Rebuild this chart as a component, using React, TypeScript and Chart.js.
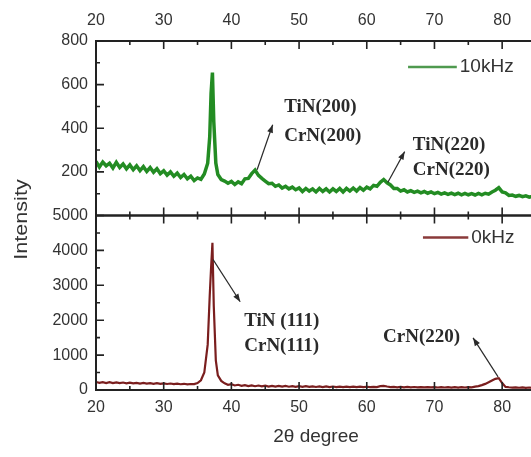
import React, { useEffect, useRef } from "react";
import { Chart, registerables } from "chart.js";

Chart.register(...registerables);

// 2θ positions (degree)
const twoTheta = [
  20, 20.5, 21, 21.5, 22, 22.5, 23, 23.5, 24, 24.5,
  25, 25.5, 26, 26.5, 27, 27.5, 28, 28.5, 29, 29.5,
  30, 30.5, 31, 31.5, 32, 32.5, 33, 33.5, 34, 34.5,
  35, 35.5, 36, 36.5, 36.8, 37.0, 37.2, 37.4, 37.7, 38, 38.5, 39, 39.5,
  40, 40.5, 41, 41.5, 42, 42.5, 43, 43.5, 44, 44.5,
  45, 45.5, 46, 46.5, 47, 47.5, 48, 48.5, 49, 49.5,
  50, 50.5, 51, 51.5, 52, 52.5, 53, 53.5, 54, 54.5,
  55, 55.5, 56, 56.5, 57, 57.5, 58, 58.5, 59, 59.5,
  60, 60.5, 61, 61.5, 62, 62.5, 63, 63.5, 64, 64.5,
  65, 65.5, 66, 66.5, 67, 67.5, 68, 68.5, 69, 69.5,
  70, 70.5, 71, 71.5, 72, 72.5, 73, 73.5, 74, 74.5,
  75, 75.5, 76, 76.5, 77, 77.5, 78, 78.5, 79, 79.5,
  80, 80.5, 81, 81.5, 82, 82.5, 83, 83.5, 84, 84.5,
  85,
];

// 10kHz intensity (top panel)
const intensity10kHz = [
  248, 222, 245, 228, 240, 218, 244, 220, 236, 214,
  232, 210, 228, 206, 224, 202, 220, 198, 214, 192,
  205, 185, 200, 180, 194, 174, 188, 168, 180, 160,
  172, 166, 190, 240, 360, 560, 655, 430, 240, 188, 165, 158, 148,
  156, 142, 154, 146, 168, 170, 192, 208, 184, 170,
  158, 146, 148, 134, 140, 126, 134, 122, 130, 118,
  126, 110, 124, 112, 122, 108, 124, 110, 122, 108,
  122, 110, 124, 108, 124, 112, 126, 112, 128, 116,
  130, 122, 138, 134, 152, 165, 150, 140, 124, 124,
  112, 118, 108, 114, 106, 112, 104, 110, 102, 108,
  100, 106, 98, 104, 97, 103, 96, 102, 95, 101,
  95, 100, 94, 101, 95, 102, 98, 108, 116, 128,
  108, 104, 92, 94, 88, 92, 86, 90, 84, 88,
  84,
];

// 0kHz intensity (bottom panel)
const intensity0kHz = [
  230, 205, 225, 200, 222, 198, 218, 196, 214, 192,
  210, 188, 206, 186, 202, 182, 198, 178, 194, 175,
  190, 172, 186, 168, 182, 165, 178, 162, 172, 170,
  200, 280, 500, 1300, 2700, 3500, 4220, 2400, 850, 420, 260, 190, 150,
  165, 130, 150, 120, 140, 112, 132, 108, 128, 104,
  124, 100, 120, 98, 118, 96, 115, 94, 112, 92,
  110, 90, 108, 88, 106, 86, 104, 85, 102, 84,
  100, 84, 98, 82, 96, 81, 95, 80, 94, 80,
  93, 80, 92, 82, 110, 120, 100, 85, 90, 78,
  88, 76, 87, 75, 86, 74, 85, 74, 84, 73,
  84, 72, 83, 72, 82, 71, 82, 71, 81, 72,
  82, 76, 95, 110, 140, 175, 220, 270, 320, 340,
  200, 90, 78, 70, 76, 64, 74, 62, 72, 60,
  70,
];

const xTickMarks = [20, 25, 30, 35, 40, 45, 50, 55, 60, 65, 70, 75, 80, 85];
const topPanelTicks = [0, 100, 200, 300, 400, 500, 600, 700, 800];
const bottomPanelTicks = [0, 500, 1000, 1500, 2000, 2500, 3000, 3500, 4000, 4500, 5000];

const seriesLabels = ["10kHz", "0kHz"];
const peakLabels = [
  { panel: "yHigh", x: 47.8, y: 498, text: "TiN(200)" },
  { panel: "yHigh", x: 47.8, y: 366, text: "CrN(200)" },
  { panel: "yHigh", x: 66.8, y: 325, text: "TiN(220)" },
  { panel: "yHigh", x: 66.8, y: 210, text: "CrN(220)" },
  { panel: "yLow", x: 41.9, y: 1983, text: "TiN (111)" },
  { panel: "yLow", x: 41.9, y: 1265, text: "CrN(111)" },
  { panel: "yLow", x: 62.4, y: 1523, text: "CrN(220)" },
];
const peakArrows = [
  { panel: "yHigh", from: [43.8, 210], to: [46.1, 416] },
  { panel: "yHigh", from: [63.1, 151], to: [65.6, 293] },
  { panel: "yLow", from: [37.3, 3736], to: [41.3, 2529] },
  { panel: "yLow", from: [79.4, 374], to: [75.7, 1494] },
];

const GREEN = "#238c23";
const MAROON = "#7a1e1e";
const TEXT = "#333333";
const SANS = "'Liberation Sans', Arial, sans-serif";
const SERIF = "'Liberation Serif', 'Times New Roman', serif";

const legendItems = [
  { panel: "yHigh", x0: 66.1, x1: 73.3, y: 681, label: seriesLabels[0], color: "#4f9a4f" },
  { panel: "yLow", x0: 68.3, x1: 75.0, y: 4369, label: seriesLabels[1], color: "#8a3a3a" },
];

const decorPlugin = {
  id: "decor",
  afterDatasetsDraw(chart: any) {
    const ctx = chart.ctx as CanvasRenderingContext2D;
    const xs = chart.scales.x;
    const yHigh = chart.scales.yHigh;
    const yLow = chart.scales.yLow;
    const panels = [yHigh, yLow];
    ctx.save();

    // frames
    ctx.strokeStyle = "#222";
    ctx.lineWidth = 2;
    for (const p of panels) {
      ctx.strokeRect(xs.left, p.top, xs.right - xs.left, p.bottom - p.top);
    }

    // inward ticks on x edges
    ctx.lineWidth = 1.6;
    ctx.beginPath();
    for (const v of xTickMarks) {
      const px = xs.getPixelForValue(v);
      const len = v % 10 === 0 ? 8 : 4;
      for (const p of panels) {
        ctx.moveTo(px, p.top);
        ctx.lineTo(px, p.top + len);
        ctx.moveTo(px, p.bottom);
        ctx.lineTo(px, p.bottom - len);
      }
    }
    // inward ticks on the left edge
    for (const v of topPanelTicks) {
      const py = yHigh.getPixelForValue(v);
      const len = v % 200 === 0 ? 8 : 4;
      ctx.moveTo(xs.left, py);
      ctx.lineTo(xs.left + len, py);
    }
    for (const v of bottomPanelTicks) {
      const py = yLow.getPixelForValue(v);
      const len = v % 1000 === 0 ? 8 : 4;
      ctx.moveTo(xs.left, py);
      ctx.lineTo(xs.left + len, py);
    }
    ctx.stroke();

    // legends
    for (const item of legendItems) {
      const sc = chart.scales[item.panel];
      const py = sc.getPixelForValue(item.y);
      const a = xs.getPixelForValue(item.x0);
      const b = xs.getPixelForValue(item.x1);
      ctx.strokeStyle = item.color;
      ctx.lineWidth = 2.5;
      ctx.beginPath();
      ctx.moveTo(a, py);
      ctx.lineTo(b, py);
      ctx.stroke();
      ctx.fillStyle = TEXT;
      ctx.font = `19px ${SANS}`;
      ctx.textAlign = "left";
      ctx.textBaseline = "middle";
      ctx.fillText(item.label, b + 3, py);
    }

    // arrows
    ctx.strokeStyle = "#2a2a2a";
    ctx.fillStyle = "#2a2a2a";
    ctx.lineWidth = 1.2;
    for (const ar of peakArrows) {
      const sc = chart.scales[ar.panel];
      const x1 = xs.getPixelForValue(ar.from[0]);
      const y1 = sc.getPixelForValue(ar.from[1]);
      const x2 = xs.getPixelForValue(ar.to[0]);
      const y2 = sc.getPixelForValue(ar.to[1]);
      ctx.beginPath();
      ctx.moveTo(x1, y1);
      ctx.lineTo(x2, y2);
      ctx.stroke();
      const ang = Math.atan2(y2 - y1, x2 - x1);
      const hl = 8;
      const hw = 3;
      ctx.beginPath();
      ctx.moveTo(x2, y2);
      ctx.lineTo(x2 - hl * Math.cos(ang) + hw * Math.sin(ang), y2 - hl * Math.sin(ang) - hw * Math.cos(ang));
      ctx.lineTo(x2 - hl * Math.cos(ang) - hw * Math.sin(ang), y2 - hl * Math.sin(ang) + hw * Math.cos(ang));
      ctx.closePath();
      ctx.fill();
    }

    // peak labels
    ctx.fillStyle = "#2a2a2a";
    ctx.font = `bold 19px ${SERIF}`;
    ctx.textAlign = "left";
    ctx.textBaseline = "middle";
    for (const lb of peakLabels) {
      const sc = chart.scales[lb.panel];
      ctx.fillText(lb.text, xs.getPixelForValue(lb.x), sc.getPixelForValue(lb.y));
    }

    // y-axis title
    ctx.save();
    ctx.translate(22, (yHigh.top + yLow.bottom) / 2 + 4);
    ctx.rotate(-Math.PI / 2);
    ctx.scale(1.2, 1);
    ctx.fillStyle = TEXT;
    ctx.font = `18px ${SANS}`;
    ctx.textAlign = "center";
    ctx.textBaseline = "middle";
    ctx.fillText("Intensity", 0, 0);
    ctx.restore();

    ctx.restore();
  },
};

const tickFont = { family: SANS, size: 16 };
const plainLabel = (v: any) => String(v);

export default function App() {
  const ref = useRef<HTMLCanvasElement | null>(null);

  useEffect(() => {
    if (!ref.current) return;
    const chart = new Chart(ref.current, {
      type: "line",
      data: {
        datasets: [
          {
            label: seriesLabels[0],
            data: twoTheta.map((t, i) => ({ x: t, y: intensity10kHz[i] })),
            borderColor: GREEN,
            borderWidth: 3.5,
            pointRadius: 0,
            tension: 0,
            xAxisID: "x",
            yAxisID: "yHigh",
          },
          {
            label: seriesLabels[1],
            data: twoTheta.map((t, i) => ({ x: t, y: intensity0kHz[i] })),
            borderColor: MAROON,
            borderWidth: 2.2,
            pointRadius: 0,
            tension: 0,
            xAxisID: "x",
            yAxisID: "yLow",
          },
        ],
      },
      options: {
        responsive: false,
        animation: false,
        layout: { padding: { left: 0, right: 4, top: 0, bottom: 0 } },
        plugins: { legend: { display: false }, tooltip: { enabled: false } },
        scales: {
          x: {
            type: "linear",
            position: "bottom",
            min: 20,
            max: 85,
            grid: { display: false, drawTicks: false },
            border: { display: false },
            ticks: {
              stepSize: 10,
              includeBounds: false,
              autoSkip: false,
              maxRotation: 0,
              padding: 8,
              color: TEXT,
              font: tickFont,
              callback: plainLabel,
            },
            title: {
              display: true,
              text: "2θ degree",
              color: TEXT,
              font: { family: SANS, size: 19 },
              padding: { top: 4, bottom: 9 },
            },
            afterFit: (s: any) => {
              s.height = 67;
            },
          },
          xTop: {
            type: "linear",
            position: "top",
            min: 20,
            max: 85,
            grid: { display: false, drawTicks: false },
            border: { display: false },
            ticks: {
              stepSize: 10,
              includeBounds: false,
              autoSkip: false,
              maxRotation: 0,
              padding: 11,
              color: TEXT,
              font: tickFont,
              callback: plainLabel,
            },
            afterFit: (s: any) => {
              s.height = 41;
            },
          },
          yLow: {
            type: "linear",
            position: "left",
            stack: "panels",
            stackWeight: 1,
            min: 0,
            max: 5000,
            grid: { display: false, drawTicks: false },
            border: { display: false },
            ticks: {
              stepSize: 1000,
              includeBounds: false,
              autoSkip: false,
              padding: 8,
              color: TEXT,
              font: tickFont,
              callback: plainLabel,
            },
            afterFit: (s: any) => {
              s.width = 96;
            },
          },
          yHigh: {
            type: "linear",
            position: "left",
            stack: "panels",
            stackWeight: 1,
            min: 0,
            max: 800,
            grid: { display: false, drawTicks: false },
            border: { display: false },
            ticks: {
              stepSize: 200,
              includeBounds: false,
              autoSkip: false,
              padding: 8,
              color: TEXT,
              font: tickFont,
              callback: (v: any) => (v === 0 ? "" : String(v)),
            },
            afterFit: (s: any) => {
              s.width = 96;
            },
          },
        },
      },
      plugins: [decorPlugin],
    } as any);
    return () => chart.destroy();
  }, []);

  return (
    <div
      style={{
        position: "fixed",
        left: 0,
        top: 0,
        width: 531,
        height: 457,
        overflow: "hidden",
        background: "#ffffff",
      }}
    >
      <canvas ref={ref} width={540} height={457} style={{ display: "block" }} />
    </div>
  );
}
